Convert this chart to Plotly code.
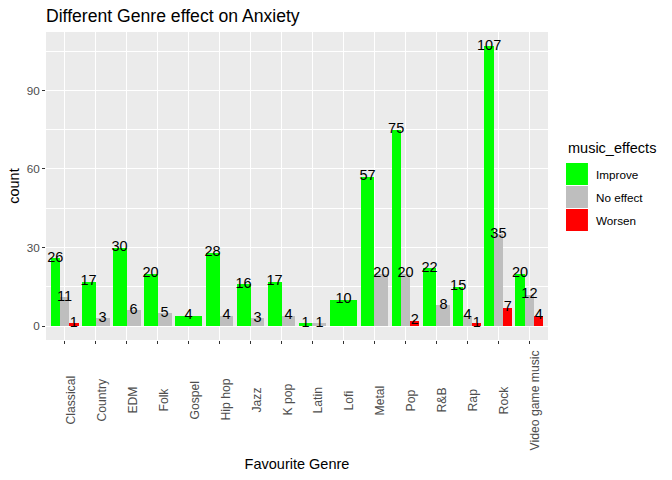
import plotly.graph_objects as go

genres = ["Classical", "Country", "EDM", "Folk", "Gospel", "Hip hop", "Jazz", "K pop",
          "Latin", "Lofi", "Metal", "Pop", "R&B", "Rap", "Rock", "Video game music"]
effects = ["Improve", "No effect", "Worsen"]
colors = {"Improve": "#00FF00", "No effect": "#BEBEBE", "Worsen": "#FF0000"}

# counts per genre, None where the combination does not occur
improve = [26, 17, 30, 20, 4, 28, 16, 17, 1, 10, 57, 75, 22, 15, 107, 20]
no_effect = [11, 3, 6, 5, None, 4, 3, 4, 1, None, 20, 20, 8, 4, 35, 12]
worsen = [1, None, None, None, None, None, None, None, None, None, None, 2, None, 1, 7, 4]
counts = {"Improve": improve, "No effect": no_effect, "Worsen": worsen}

# dodge like ggplot: bars present in a group share 0.9 of the slot
pos = {e: ([], [], []) for e in effects}
for i, g in enumerate(genres):
    present = [e for e in effects if counts[e][i] is not None]
    w = 0.9 / len(present)
    for j, e in enumerate(present):
        xs, ys, ws = pos[e]
        xs.append(i + 1 - 0.45 + w * (j + 0.5))
        ys.append(counts[e][i])
        ws.append(w)

fig = go.Figure()
for e in effects:
    xs, ys, ws = pos[e]
    fig.add_bar(x=xs, y=ys, width=ws, marker=dict(color=colors[e], line=dict(width=0)),
                name=e, showlegend=False)
for e in effects:
    xs, ys, ws = pos[e]
    fig.add_scatter(x=xs, y=ys, mode="text", text=[str(v) for v in ys],
                    textposition="middle center",
                    textfont=dict(family="Liberation Sans, Arial", size=14.5, color="black"),
                    showlegend=False, hoverinfo="skip")

# panel edges in page pixels (body margin is removed below)
L, R, T, B = 45.5, 548, 32, 340

def px(x):
    return (x - L) / (R - L)

def py(y):
    return (B - y) / (B - T)

# rotated genre labels, centred vertically like ggplot's angle = 90
for i, g in enumerate(genres):
    fig.add_annotation(x=i + 1, y=py(400), xref="x", yref="paper", text=g,
                       textangle=-90, showarrow=False, xanchor="center", yanchor="middle",
                       xshift=6, font=dict(size=12.2, color="#4D4D4D"))

# manual ggplot-style legend
fig.add_annotation(x=px(566), y=py(148), xref="paper", yref="paper", text="music_effects",
                   showarrow=False, xanchor="left", yanchor="middle",
                   font=dict(size=14.5, color="black"))
for k, e in enumerate(effects):
    top = 163 + k * 23
    fig.add_shape(type="rect", xref="paper", yref="paper",
                  x0=px(566), x1=px(588), y0=py(top + 22), y1=py(top),
                  fillcolor=colors[e], line=dict(width=0))
    fig.add_annotation(x=px(594), y=py(top + 11), xref="paper", yref="paper", text=e,
                       showarrow=False, xanchor="left", yanchor="middle",
                       font=dict(size=11.7, color="black"))

fig.update_layout(
    width=672, height=480,
    margin=dict(l=L, r=672 - R, t=T, b=480 - B, autoexpand=False),
    paper_bgcolor="white", plot_bgcolor="#EBEBEB",
    font=dict(family="Liberation Sans, Arial", color="black"),
    title=dict(text="Different Genre effect on Anxiety", x=46 / 672, xanchor="left",
               y=1 - 16 / 480, yanchor="middle", font=dict(size=17.6, color="black")),
    bargap=0, showlegend=False,
)
fig.update_xaxes(
    range=[0.4, 16.6], tickmode="array", tickvals=list(range(1, 17)), showticklabels=False,
    ticks="outside", ticklen=3, tickcolor="#333333", automargin=False,
    showgrid=True, gridcolor="white", gridwidth=1.1, zeroline=False,
    title=dict(text="Favourite Genre", font=dict(size=14.5, color="black"), standoff=115),
)
fig.update_yaxes(
    range=[-5.35, 112.35], tickvals=[0, 30, 60, 90], ticks="outside", ticklen=3,
    tickcolor="#333333", tickfont=dict(size=11.7, color="#4D4D4D"), automargin=False,
    showgrid=True, gridcolor="white", gridwidth=1.1, zeroline=False,
    minor=dict(tickvals=[15, 45, 75, 105], showgrid=True, gridcolor="white", gridwidth=0.5, ticks=""),
    title=dict(text="count", font=dict(size=14.5, color="black"), standoff=3),
)

fig.write_html("out.html", config={"displayModeBar": False},
               post_script="document.body.style.margin='0';")
